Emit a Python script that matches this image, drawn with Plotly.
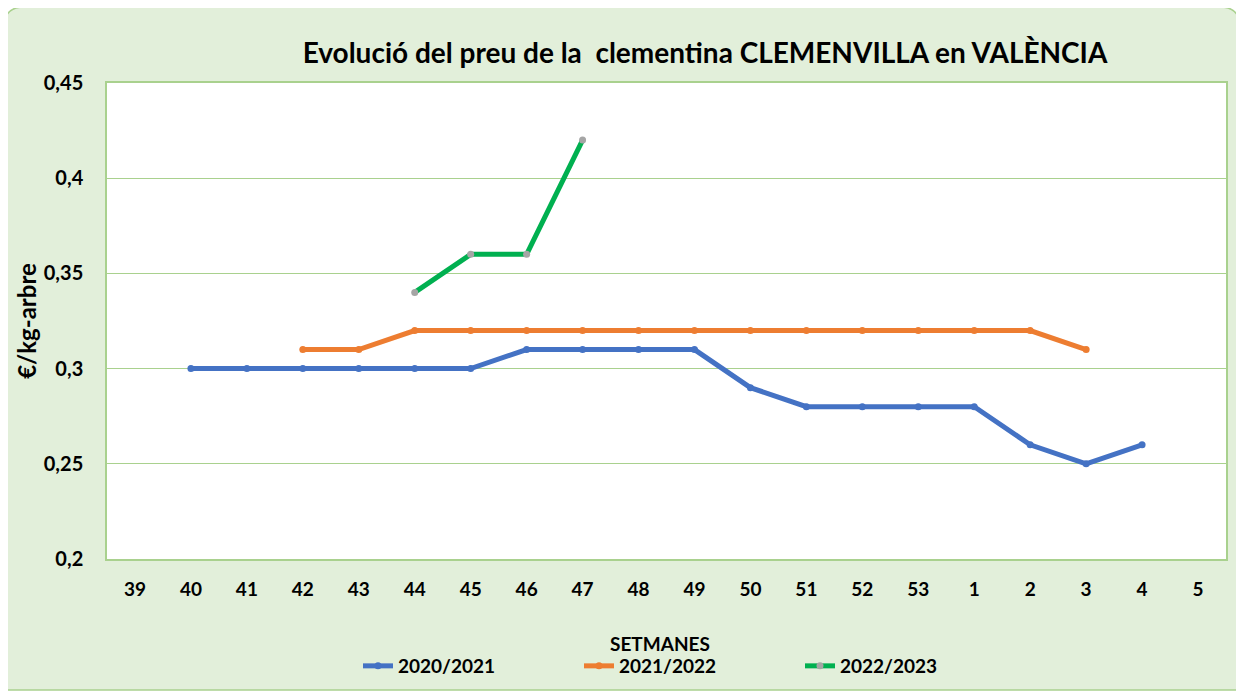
import plotly.graph_objects as go

semanes = ['39', '40', '41', '42', '43', '44', '45', '46', '47', '48', '49',
           '50', '51', '52', '53', '1', '2', '3', '4', '5']

setm_2021 = ['40', '41', '42', '43', '44', '45', '46', '47', '48', '49',
             '50', '51', '52', '53', '1', '2', '3', '4']
preu_2021 = [0.30, 0.30, 0.30, 0.30, 0.30, 0.30, 0.31, 0.31, 0.31, 0.31,
             0.29, 0.28, 0.28, 0.28, 0.28, 0.26, 0.25, 0.26]

setm_2122 = ['42', '43', '44', '45', '46', '47', '48', '49', '50', '51',
             '52', '53', '1', '2', '3']
preu_2122 = [0.31, 0.31, 0.32, 0.32, 0.32, 0.32, 0.32, 0.32, 0.32, 0.32,
             0.32, 0.32, 0.32, 0.32, 0.31]

setm_2223 = ['44', '45', '46', '47']
preu_2223 = [0.34, 0.36, 0.36, 0.42]

W, H = 1244, 693
OFF = 8  # marge del body de la pàgina
# posicions en pantalla de l'àrea de dibuix
SL, SR, ST, SB = 107, 1226, 83, 559
ML, MT = SL - OFF, ST - OFF
MR, MB = W - (SR - OFF), H - (SB - OFF)
PW, PH = SR - SL, SB - ST

FONT = 'Lato'
VERD = '#a9d18e'


def px(x):
    return (x - SL) / PW


def py(y):
    return (SB - y) / PH


fig = go.Figure()

series = [
    ('2020/2021', setm_2021, preu_2021, '#4472c4', '#4472c4'),
    ('2021/2022', setm_2122, preu_2122, '#ed7d31', '#ed7d31'),
    ('2022/2023', setm_2223, preu_2223, '#00b050', '#a5a5a5'),
]
for nom, xs, ys, color, mcolor in series:
    fig.add_trace(go.Scatter(
        x=xs, y=ys, name=nom, mode='lines+markers',
        line=dict(color=color, width=5),
        marker=dict(color=mcolor, size=7),
    ))

# fons verd amb cantonades arrodonides
x0, x1 = px(4), px(1240)
y0, y1 = py(690), py(7)
rx, ry = 20 / PW, 20 / PH
path = (f'M {x0+rx},{y1} L {x1-rx},{y1} Q {x1},{y1} {x1},{y1-ry} '
        f'L {x1},{y0} L {x0},{y0} L {x0},{y1-ry} Q {x0},{y1} {x0+rx},{y1} Z')
fig.add_shape(type='path', path=path, xref='paper', yref='paper',
              fillcolor='#e2efda', line=dict(color=VERD, width=1.5),
              layer='below')
fig.add_shape(type='rect', xref='paper', yref='paper', x0=0, x1=1, y0=0, y1=1,
              fillcolor='white', line=dict(width=0), layer='below')

fig.add_annotation(text='<b>SETMANES</b>', xref='paper', yref='paper',
                   x=px(660), y=py(643), showarrow=False,
                   xanchor='center', yanchor='middle',
                   font=dict(family=FONT, size=19, color='black'))

fig.update_layout(
    width=W, height=H,
    margin=dict(l=ML, r=MR, t=MT, b=MB, autoexpand=False),
    paper_bgcolor='white',
    plot_bgcolor='white',
    separators=',.',
    font=dict(family=FONT, color='black', size=15),
    title=dict(text='<b>Evolució del preu de la  clementina CLEMENVILLA en VALÈNCIA</b>',
               x=(705 - OFF) / W, xanchor='center', xref='container',
               y=1 - (53 - OFF) / H, yanchor='middle', yref='container',
               font=dict(family=FONT, size=28, color='black')),
    xaxis=dict(
        type='category', categoryorder='array', categoryarray=semanes,
        range=[-0.5, len(semanes) - 0.5], automargin=False,
        showgrid=False, showline=True, linecolor=VERD, linewidth=1.5,
        mirror=True, ticks='', ticklabelstandoff=12,
        tickfont=dict(family=FONT, size=19, color='black', weight='bold'),
    ),
    yaxis=dict(
        range=[0.2, 0.45], dtick=0.05, tick0=0.2, automargin=False,
        showgrid=True, gridcolor=VERD, gridwidth=1,
        showline=True, linecolor=VERD, linewidth=1.5, mirror=True,
        zeroline=False, ticks='', ticklabelstandoff=18,
        tickfont=dict(family=FONT, size=20, color='black', weight='bold'),
        title=dict(text='<b>€/kg-arbre</b>', standoff=0,
                   font=dict(family=FONT, size=24, color='black')),
    ),
    legend=dict(
        orientation='h', x=px(358), xanchor='left',
        y=py(666), yanchor='middle',
        bgcolor='rgba(0,0,0,0)',
        font=dict(family=FONT, size=19, color='black', weight='bold'),
        entrywidth=176, itemwidth=30,
    ),
)

fig.write_html('out.html')
